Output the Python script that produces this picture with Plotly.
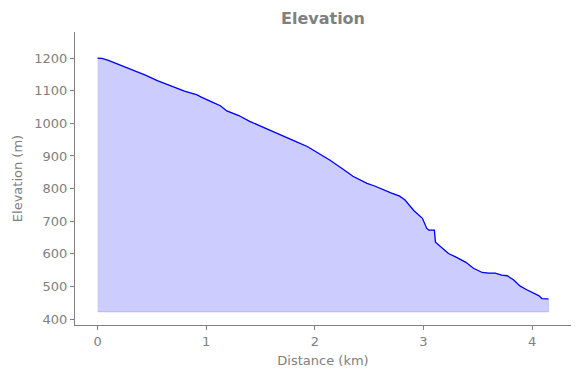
import plotly.graph_objects as go

distance_km = [0.00, 0.04, 0.10, 0.20, 0.30, 0.44, 0.55, 0.70, 0.80, 0.917, 0.95, 1.05, 1.13, 1.19,
               1.30, 1.40, 1.50, 1.60, 1.70, 1.80, 1.93, 1.96, 2.05, 2.14, 2.27, 2.35, 2.48, 2.55,
               2.70, 2.78, 2.83, 2.88, 2.91, 2.99, 3.03, 3.05, 3.10, 3.11, 3.16, 3.23, 3.30, 3.39,
               3.46, 3.54, 3.60, 3.66, 3.72, 3.77, 3.83, 3.89, 3.95, 4.02, 4.06, 4.09, 4.15]
elevation_m = [1200, 1199, 1193, 1180, 1166, 1148, 1131, 1112, 1099, 1087, 1081, 1066, 1054, 1038,
               1024, 1006, 992, 976, 963, 948, 929, 923, 905, 887, 857, 838, 816, 808,
               787, 777, 765, 745, 733, 709, 678, 673, 673, 636, 622, 601, 590, 574,
               556, 543, 541, 541, 535, 533, 520, 501, 490, 478, 472, 463, 462]
x_ticks = [0, 1, 2, 3, 4]
y_ticks = [400, 500, 600, 700, 800, 900, 1000, 1100, 1200]

fill_base = min(elevation_m) - 40
gray = "#808080"

fig = go.Figure()
fig.add_trace(go.Scatter(
    x=distance_km + distance_km[::-1],
    y=elevation_m + [fill_base] * len(distance_km),
    fill="toself", fillcolor="rgba(0,0,255,0.2)",
    line=dict(color="rgba(0,0,255,0.15)", width=1),
    mode="lines", hoverinfo="skip", showlegend=False))
fig.add_trace(go.Scatter(
    x=distance_km, y=elevation_m, mode="lines",
    line=dict(color="blue", width=1.3), showlegend=False))

axis_common = dict(showgrid=False, zeroline=False, showline=True, linecolor=gray, linewidth=1,
                   ticks="outside", ticklen=4, tickcolor=gray, tickfont=dict(size=13, color=gray),
                   mirror=False, automargin=False)
fig.update_layout(
    width=580, height=378,
    margin=dict(l=75, r=9, t=32, b=53),
    paper_bgcolor="white", plot_bgcolor="white",
    font=dict(family="DejaVu Sans", color=gray),
    title=dict(text="<b>Elevation</b>", x=(75 + 248) / 580, xanchor="center", y=0.952, yanchor="middle",
               font=dict(size=16, color=gray)),
    xaxis=dict(range=[-0.2075, 4.3575], tickvals=x_ticks, **axis_common,
               title=dict(text="Distance (km)", font=dict(size=13, color=gray), standoff=8)),
    yaxis=dict(range=[382, 1280], tickvals=y_ticks, **axis_common,
               title=dict(text="Elevation (m)", font=dict(size=13, color=gray), standoff=8)),
)
fig.write_html("out.html", config={"displayModeBar": False},
               post_script="document.body.style.margin='0px';")
